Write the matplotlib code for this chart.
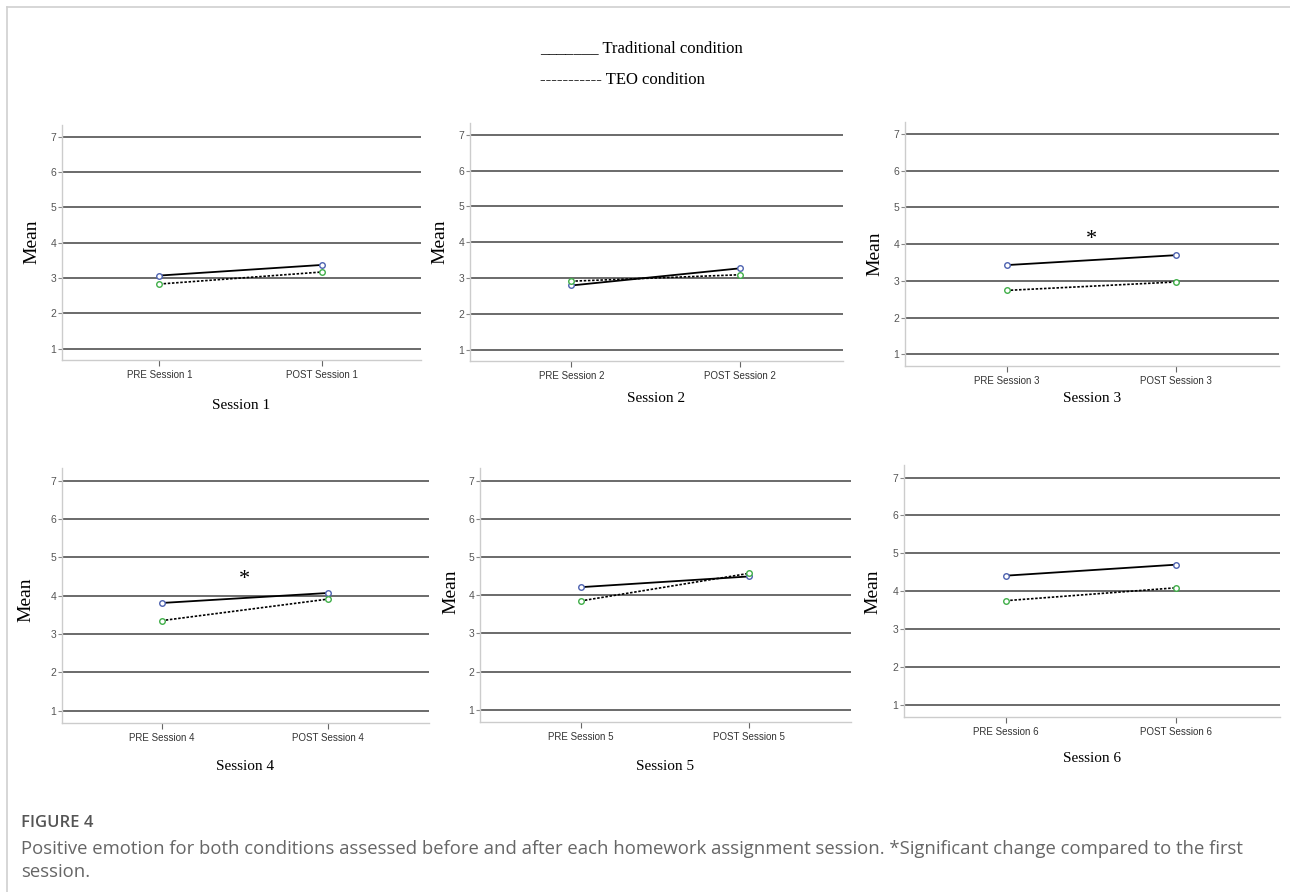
import matplotlib
matplotlib.use("Agg")
import matplotlib.pyplot as plt
from matplotlib.lines import Line2D

# ---------------- data ----------------
sessions = ["Session 1", "Session 2", "Session 3", "Session 4", "Session 5", "Session 6"]
pre_labels = ["PRE Session 1", "PRE Session 2", "PRE Session 3", "PRE Session 4", "PRE Session 5", "PRE Session 6"]
post_labels = ["POST Session 1", "POST Session 2", "POST Session 3", "POST Session 4", "POST Session 5", "POST Session 6"]
trad_pre = [3.07, 2.79, 3.43, 3.81, 4.21, 4.41]
trad_post = [3.37, 3.27, 3.70, 4.07, 4.49, 4.70]
teo_pre = [2.83, 2.91, 2.74, 3.35, 3.85, 3.75]
teo_post = [3.17, 3.09, 2.97, 3.91, 4.57, 4.09]
significant = [False, False, True, True, False, False]
star_y = [None, None, 4.14, 4.43, None, None]
y_ticks = [1, 2, 3, 4, 5, 6, 7]

# ---------------- layout (pixels, top-origin) ----------------
W, H = 1290, 892
fig = plt.figure(figsize=(W / 100, H / 100), dpi=100)
fig.patch.set_facecolor("white")

# left, right, top, bottom of each axes
boxes = [
    (62, 421, 125, 360),
    (470, 843, 123, 361),
    (905, 1279, 122, 366),
    (62, 429, 468, 723),
    (480, 851, 468, 722),
    (904, 1280, 465, 717),
]
ylabel_pos = [(32, 242), (440, 242), (875, 254), (26, 600), (451, 592), (873, 592)]
xlabel_y = [405, 398, 398, 767, 767, 759]

def fx(px):
    return px / W

def fy(py):
    return 1 - py / H

grid_col = "#6a6a6a"
spine_col = "#cccccc"
trad_mark = "#4d62b0"
teo_mark = "#3fae48"

for i in range(6):
    l, r, t, b = boxes[i]
    ax = fig.add_axes([fx(l), fy(b), fx(r) - fx(l), fy(t) - fy(b)])
    ax.set_xlim(-0.6, 1.61)
    ax.set_ylim(0.68, 7.33)
    for yv in y_ticks:
        ax.axhline(yv, color=grid_col, lw=1.4, zorder=1)
    for s in ["top", "right"]:
        ax.spines[s].set_visible(False)
    for s in ["left", "bottom"]:
        ax.spines[s].set_color(spine_col)
        ax.spines[s].set_linewidth(1.0)
    ax.set_yticks(y_ticks)
    ax.set_yticklabels([str(v) for v in y_ticks], fontsize=7.5, color="#555555",
                       family="Liberation Sans")
    ax.set_xticks([0, 1])
    ax.set_xticklabels([pre_labels[i], post_labels[i]], fontsize=7, color="#333333",
                       family="Liberation Sans")
    ax.tick_params(axis="y", length=3, width=0.8, color="#888888", pad=1)
    ax.tick_params(axis="x", length=4, width=0.8, color="#666666", pad=3)

    ax.plot([0, 1], [trad_pre[i], trad_post[i]], color="black", lw=1.3, zorder=3)
    ax.plot([0, 1], [teo_pre[i], teo_post[i]], color="black", lw=1.2,
            linestyle=(0, (1.5, 1)), zorder=3)
    ax.plot([0, 1], [trad_pre[i], trad_post[i]], linestyle="none", marker="o",
            ms=4, mfc="white", mec=trad_mark, mew=1.0, zorder=4)
    ax.plot([0, 1], [teo_pre[i], teo_post[i]], linestyle="none", marker="o",
            ms=4, mfc="white", mec=teo_mark, mew=1.0, zorder=4)
    if significant[i]:
        ax.text(0.5, star_y[i], "*", ha="center", va="center", fontsize=16,
                family="Liberation Serif", color="black")

    fig.text(fx(ylabel_pos[i][0]), fy(ylabel_pos[i][1]), "Mean", rotation=90,
             ha="center", va="center", fontsize=14, family="Liberation Serif")
    fig.text(fx((l + r) / 2), fy(xlabel_y[i]), sessions[i], ha="center", va="center",
             fontsize=11, family="Liberation Serif")

# legend text at top
fig.text(fx(540), fy(48), "_______ Traditional condition", ha="left", va="center",
         fontsize=12, family="Liberation Serif")
fig.text(fx(540), fy(80), "----------- TEO condition", ha="left", va="center",
         fontsize=12, family="Liberation Serif")

# caption
fig.text(fx(21), fy(823), "FIGURE 4", ha="left", va="center", fontsize=12,
         family="Open Sans", fontweight="semibold", color="#555555")
fig.text(fx(21), fy(849),
         "Positive emotion for both conditions assessed before and after each homework assignment session. *Significant change compared to the first",
         ha="left", va="center", fontsize=13.3, family="Open Sans", color="#666666")
fig.text(fx(21), fy(872), "session.", ha="left", va="center", fontsize=13.3,
         family="Open Sans", color="#666666")

# frame lines
fig.add_artist(Line2D([fx(7), 1], [fy(7), fy(7)], color="#d0d0d0", lw=1.2))
fig.add_artist(Line2D([fx(7), fx(7)], [fy(7), 0], color="#d0d0d0", lw=1.2))

fig.savefig("out.png", dpi=100, facecolor="white")
